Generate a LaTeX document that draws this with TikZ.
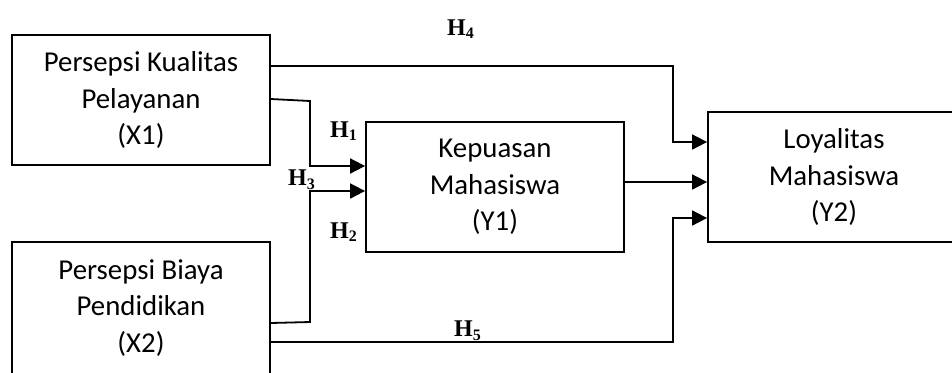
\documentclass[tikz,border=0pt]{standalone}
\usepackage{fontspec}
\setmainfont{Carlito}
\newfontfamily\hfont{Liberation Serif}
\usepackage{tikz}
\usetikzlibrary{arrows.meta, positioning, calc}

\begin{document}
\begin{tikzpicture}[
    var/.style={draw, line width=0.9pt, align=center, inner sep=0pt, minimum height=65pt, font=\fontsize{14.4}{18.3}\selectfont},
    hlab/.style={font=\hfont\bfseries\fontsize{12}{12}\selectfont, inner sep=0pt},
    arr/.style={-{Triangle[length=7.5pt, width=7.5pt]}, line width=0.9pt},
]
\useasboundingbox (0,0) rectangle (476pt,186pt);

\node[var, minimum width=129pt] (x1) at (70.5pt,136pt) {Persepsi Kualitas\\Pelayanan\\(X1)};
\node[var, minimum width=129pt, minimum height=66pt] (x2) at (70.5pt,32pt) {Persepsi Biaya\\Pendidikan\\(X2)};
\node[var, minimum width=129pt] (y1) at (247.5pt,92.5pt) {Kepuasan\\Mahasiswa\\(Y1)};
\node[var, minimum width=126pt] (y2) at (417pt,97.5pt) {Loyalitas\\Mahasiswa\\(Y2)};

% junction points of the elbow lines
\coordinate (j1) at (155pt,135.5pt);
\coordinate (j2) at (155pt,25pt);
\coordinate (j4) at (336.5pt,153pt);
\coordinate (j5) at (336.5pt,15pt);

\draw[arr] ([yshift=0.5pt]x1.east) -- (j1) |- ([yshift=10.5pt]y1.west);
\draw[arr] ([yshift=-7.5pt]x2.east) -- (j2) |- ([yshift=-2pt]y1.west);
\draw[arr] (x1.east |- j4) -- (j4) |- ([yshift=17.5pt]y2.west);
\draw[arr] ([yshift=2.5pt]y1.east) -- ([yshift=2.5pt]y1.east -| y2.west);
\draw[arr] (x2.east |- j5) -- (j5) |- ([yshift=-20.5pt]y2.west);

\node[hlab] (h4) at (230.5pt,171.5pt) {H\textsubscript{4}};
\node[hlab] (h1) at (172pt,120.5pt) {H\textsubscript{1}};
\node[hlab] (h3) at (151pt,96pt) {H\textsubscript{3}};
\node[hlab] (h2) at (172pt,70pt) {H\textsubscript{2}};
\node[hlab] (h5) at (234pt,20.5pt) {H\textsubscript{5}};

\end{tikzpicture}
\end{document}
